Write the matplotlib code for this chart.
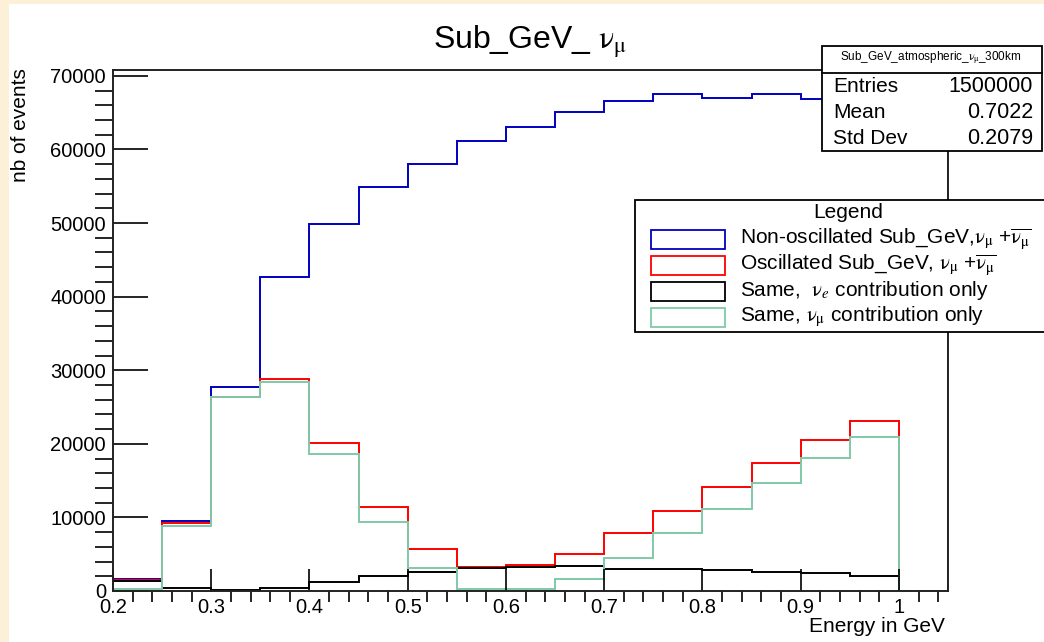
import numpy as np
import matplotlib.pyplot as plt
from matplotlib.patches import Rectangle
from matplotlib.ticker import MultipleLocator

plt.rcParams['font.family'] = ['Liberation Sans', 'DejaVu Sans']
plt.rcParams['mathtext.fontset'] = 'stix'

# bin edges (GeV) and bin contents
edges = np.round(np.arange(0.2, 1.0501, 0.05), 3)
non_osc = [1600, 9550, 27700, 42700, 49900, 54900, 58000, 61150, 63000, 65150,
           66600, 67600, 67050, 67600, 66850, 66800, 66500]
osc = [1550, 9300, 26400, 28800, 20050, 11450, 5750, 3280, 3550, 5030,
       7850, 10900, 14100, 17350, 20500, 23150, 0]
nue = [1300, 420, 100, 370, 1230, 2080, 2630, 3080, 3300, 3350,
       3000, 3000, 2820, 2630, 2450, 2080, 0]
numu = [250, 8880, 26300, 28350, 18600, 9350, 3100, 220, 220, 1600,
        4500, 7850, 11150, 14730, 18080, 20980, 0]

series = [non_osc, osc, nue, numu]
colors = ['#0000c0', '#ff0000', '#000000', '#7fc9a8']
nu_mu = r'\mathrm{ν}_{\mathrm{μ}}'
labels = [r'Non-oscillated Sub_GeV,$' + nu_mu + r'$ +$\overline{' + nu_mu + '}$',
          r'Oscillated Sub_GeV, $' + nu_mu + r'$ +$\overline{' + nu_mu + '}$',
          r'Same,  $\mathrm{ν}_{e}$ contribution only',
          r'Same, $' + nu_mu + '$ contribution only']

stat_names = ['Entries', 'Mean', 'Std Dev']
stat_values = ['1500000', '0.7022', '0.2079']

W, H = 1044, 642
fig = plt.figure(figsize=(W / 100, H / 100), dpi=100)
fig.patch.set_facecolor('#fdf0d8')
fig.patches.append(Rectangle((9 / W, 0), 1, 1 - 4 / H, transform=fig.transFigure,
                             facecolor='white', edgecolor='none', zorder=-10))

# main frame
ax = fig.add_axes([113 / W, 51 / H, 835 / W, 521 / H])
for vals, c in zip(series, colors):
    ax.stairs(vals, edges, color=c, lw=1.4)

ax.set_xlim(0.2, 1.05)
ax.set_ylim(0, 70800)
ax.xaxis.set_major_locator(MultipleLocator(0.1))
ax.xaxis.set_minor_locator(MultipleLocator(0.02))
ax.yaxis.set_major_locator(MultipleLocator(10000))
ax.yaxis.set_minor_locator(MultipleLocator(2000))
ax.xaxis.set_major_formatter(lambda v, p: f'{v:g}')
ax.tick_params(direction='in', labelsize=14.5, width=1.2, top=False, right=False)
ax.tick_params(axis='y', which='major', length=25, pad=5)
ax.tick_params(axis='y', which='minor', length=13, width=1.2)
ax.tick_params(axis='x', which='major', length=16, pad=5)
ax.tick_params(axis='x', which='minor', length=8, width=1.2)
for s in ax.spines.values():
    s.set_linewidth(1.4)
    s.set_color('#222222')
    s.set_zorder(4)

# overlay in pixel coordinates for title, axis titles, stats box and legend
ov = fig.add_axes([0, 0, 1, 1], zorder=5)
ov.set_xlim(0, W)
ov.set_ylim(H, 0)
ov.axis('off')

ov.text(530, 42, r'Sub_GeV_ $' + nu_mu + '$', fontsize=23, ha='center', va='center')
ov.text(945, 627, 'Energy in GeV', fontsize=15, ha='right', va='center')
ov.text(21, 68, 'nb of events', fontsize=15, ha='center', va='top', rotation=90)

# stats box
ov.add_patch(Rectangle((822, 46), 220, 105, facecolor='white', edgecolor='black', lw=1.3))
ov.plot([822, 1042], [73, 73], color='black', lw=1.3)
ov.text(931, 58, r'Sub_GeV_atmospheric_$' + nu_mu + '$_300km', fontsize=8.5,
        ha='center', va='center')
for i, (n, v) in enumerate(zip(stat_names, stat_values)):
    y = 86 + i * 26
    ov.text(833, y, n, fontsize=15, ha='left', va='center')
    ov.text(1033, y, v, fontsize=15.5, ha='right', va='center')

# legend box
ov.add_patch(Rectangle((635, 200), 420, 132, facecolor='white', edgecolor='black', lw=1.3))
ov.text(848, 212, 'Legend', fontsize=15, ha='center', va='center')
for i, (lab, c) in enumerate(zip(labels, colors)):
    y = 239 + i * 26
    ov.add_patch(Rectangle((651, y - 9), 74, 19, facecolor='white', edgecolor=c, lw=1.3))
    ov.text(740, y, lab, fontsize=15, ha='left', va='center')

fig.savefig('out.png', dpi=100, facecolor=fig.get_facecolor())
